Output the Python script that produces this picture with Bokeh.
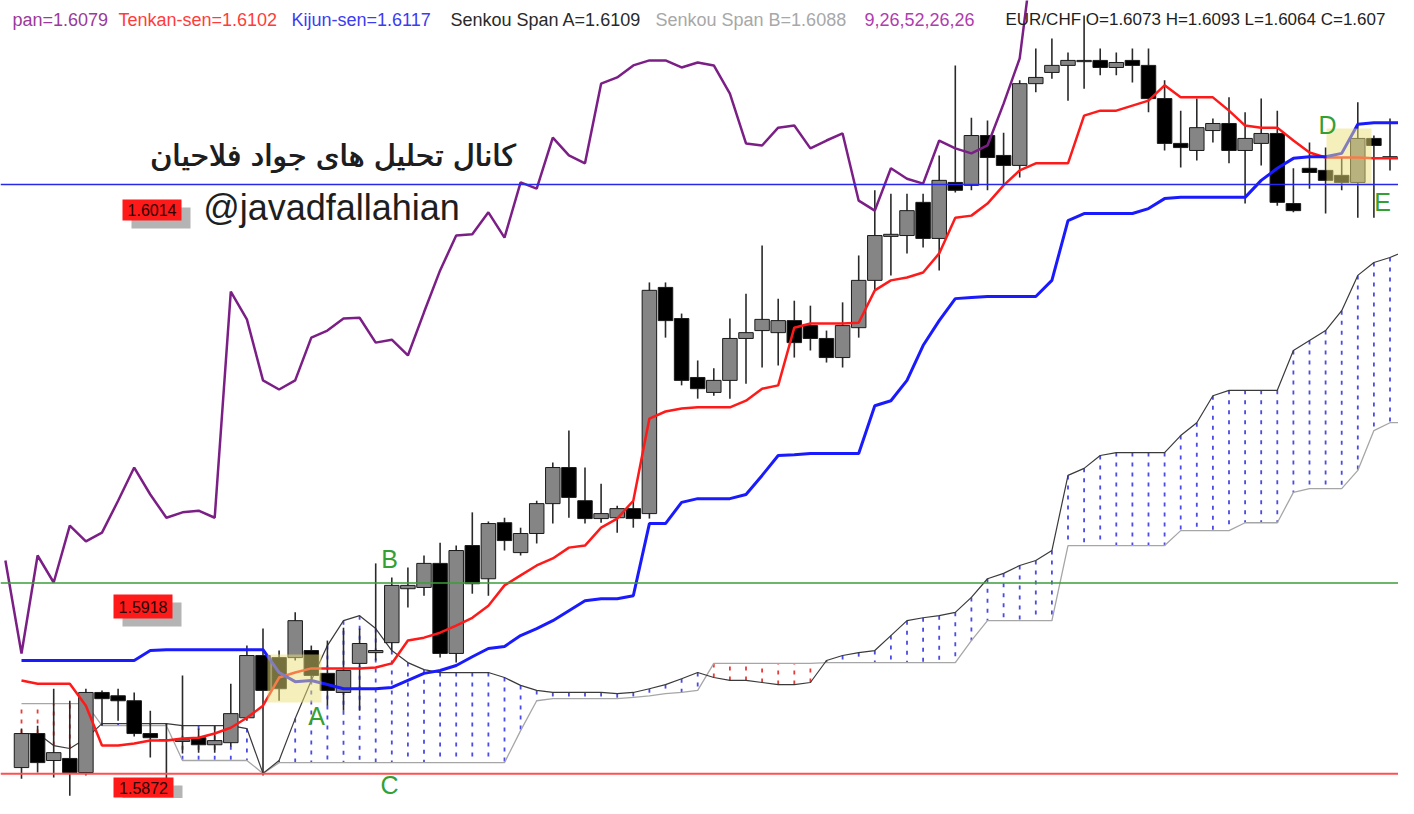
from bokeh.plotting import figure
from bokeh.models import Range1d, Label, Span
from bokeh.embed import file_html
from bokeh.resources import INLINE

# ---------------- data (EUR/CHF, Ichimoku 9,26,52) ----------------
bars = list(range(87))

opens = [1.58735, 1.58817, 1.58752, 1.58757, 1.58723, 1.58916, 1.58908, 1.58896, 1.58817, 1.58800,
         1.58798, 1.58807, 1.58790, 1.58795, 1.58855, 1.59005, 1.59000, 1.59000, 1.59017, 1.58962,
         1.58916, 1.58986, 1.59012, 1.59036, 1.59166, 1.59169, 1.59227, 1.59010, 1.59270, 1.59190,
         1.59325, 1.59253, 1.59299, 1.59371, 1.59458, 1.59378, 1.59335, 1.59337, 1.59359, 1.59347,
         1.59892, 1.59817, 1.59675, 1.59639, 1.59668, 1.59769, 1.59788, 1.59783, 1.59812, 1.59800,
         1.59769, 1.59723, 1.59795, 1.59909, 1.60015, 1.60017, 1.60097, 1.60010, 1.60145, 1.60138,
         1.60258, 1.60210, 1.60186, 1.60383, 1.60410, 1.60427, 1.60436, 1.60439, 1.60422, 1.60439,
         1.60427, 1.60347, 1.60239, 1.60222, 1.60270, 1.60287, 1.60222, 1.60239, 1.60263, 1.60094,
         1.60179, 1.60174, 1.60162, 1.60145, 1.60251, 1.60207, 1.60205]
highs = [1.58829, 1.58836, 1.58925, 1.58896, 1.58925, 1.58921, 1.58925, 1.58916, 1.58872, 1.58841,
         1.58957, 1.58829, 1.58836, 1.58937, 1.59029, 1.59070, 1.59017, 1.59109, 1.59029, 1.59041,
         1.59072, 1.59070, 1.59227, 1.59193, 1.59217, 1.59246, 1.59277, 1.59270, 1.59350, 1.59328,
         1.59337, 1.59313, 1.59378, 1.59470, 1.59547, 1.59458, 1.59419, 1.59366, 1.59378, 1.59904,
         1.59904, 1.59829, 1.59716, 1.59697, 1.59817, 1.59877, 1.59993, 1.59865, 1.59860, 1.59848,
         1.59788, 1.59856, 1.59969, 1.60126, 1.60118, 1.60118, 1.60118, 1.60210, 1.60427, 1.60301,
         1.60294, 1.60265, 1.60391, 1.60468, 1.60492, 1.60458, 1.60547, 1.60468, 1.60458, 1.60468,
         1.60468, 1.60391, 1.60318, 1.60347, 1.60299, 1.60350, 1.60314, 1.60347, 1.60318, 1.60179,
         1.60241, 1.60229, 1.60205, 1.60338, 1.60258, 1.60299, 1.60258]
lows = [1.58708, 1.58723, 1.58711, 1.58667, 1.58716, 1.58836, 1.58848, 1.58810, 1.58759, 1.58696,
        1.58769, 1.58771, 1.58771, 1.58786, 1.58848, 1.58716, 1.58896, 1.58993, 1.58945, 1.58884,
        1.58872, 1.58872, 1.58993, 1.59017, 1.59121, 1.59149, 1.59000, 1.58988, 1.59154, 1.59149,
        1.59258, 1.59246, 1.59275, 1.59323, 1.59337, 1.59323, 1.59325, 1.59301, 1.59313, 1.59335,
        1.59771, 1.59656, 1.59624, 1.59631, 1.59624, 1.59660, 1.59699, 1.59704, 1.59723, 1.59740,
        1.59711, 1.59699, 1.59771, 1.59885, 1.59921, 1.59974, 1.59988, 1.59933, 1.60121, 1.60126,
        1.60126, 1.60138, 1.60157, 1.60362, 1.60395, 1.60342, 1.60371, 1.60403, 1.60403, 1.60386,
        1.60314, 1.60222, 1.60181, 1.60198, 1.60241, 1.60191, 1.60094, 1.60186, 1.60089, 1.60073,
        1.60130, 1.60070, 1.60126, 1.60060, 1.60060, 1.60174, 1.60169]
closes = [1.58817, 1.58747, 1.58771, 1.58723, 1.58916, 1.58901, 1.58896, 1.58817, 1.58807, 1.58802,
          1.58802, 1.58790, 1.58800, 1.58865, 1.59005, 1.58921, 1.58925, 1.59089, 1.58957, 1.58921,
          1.58969, 1.59034, 1.59017, 1.59174, 1.59174, 1.59227, 1.59010, 1.59258, 1.59178, 1.59323,
          1.59282, 1.59299, 1.59371, 1.59458, 1.59386, 1.59335, 1.59347, 1.59359, 1.59335, 1.59885,
          1.59812, 1.59668, 1.59648, 1.59668, 1.59769, 1.59783, 1.59815, 1.59812, 1.59759, 1.59769,
          1.59723, 1.59800, 1.59909, 1.60017, 1.60020, 1.60077, 1.60010, 1.60150, 1.60126, 1.60258,
          1.60205, 1.60186, 1.60383, 1.60398, 1.60427, 1.60439, 1.60439, 1.60422, 1.60434, 1.60427,
          1.60347, 1.60239, 1.60229, 1.60277, 1.60287, 1.60222, 1.60251, 1.60263, 1.60097, 1.60077,
          1.60169, 1.60150, 1.60145, 1.60251, 1.60234, 1.60203, 1.60203]

tenkan = [1.58945, 1.58937, 1.58937, 1.58937, 1.58884, 1.58788, 1.58788, 1.58793, 1.58800, 1.58800,
          1.58805, 1.58807, 1.58817, 1.58831, 1.58855, 1.58884, 1.58952, 1.58964, 1.58974, 1.58974,
          1.58974, 1.58974, 1.58976, 1.58986, 1.59041, 1.59048, 1.59060, 1.59077, 1.59096, 1.59125,
          1.59174, 1.59198, 1.59222, 1.59239, 1.59265, 1.59270, 1.59313, 1.59335, 1.59378, 1.59576,
          1.59593, 1.59600, 1.59603, 1.59603, 1.59603, 1.59619, 1.59648, 1.59656, 1.59795, 1.59805,
          1.59805, 1.59805, 1.59807, 1.59885, 1.59909, 1.59916, 1.59928, 1.59974, 1.60060, 1.60065,
          1.60094, 1.60138, 1.60174, 1.60191, 1.60191, 1.60191, 1.60306, 1.60318, 1.60318, 1.60330,
          1.60342, 1.60379, 1.60350, 1.60350, 1.60350, 1.60318, 1.60282, 1.60277, 1.60277, 1.60246,
          1.60217, 1.60205, 1.60205, 1.60205, 1.60203, 1.60203, 1.60203]

kijun = ([1.58993] * 8 + [1.59017] + [1.59019] * 7 +
         [1.58964, 1.58942, 1.58945, 1.58935, 1.58925, 1.58925, 1.58925, 1.58928, 1.58945, 1.58962,
          1.58969, 1.58981, 1.59002, 1.59022, 1.59027, 1.59053, 1.59070, 1.59089, 1.59113, 1.59137,
          1.59142, 1.59142, 1.59149, 1.59323, 1.59323, 1.59374, 1.59383, 1.59383, 1.59383, 1.59393,
          1.59439, 1.59487, 1.59489, 1.59492, 1.59492, 1.59492, 1.59492, 1.59607, 1.59619, 1.59668,
          1.59752, 1.59812, 1.59865, 1.59868, 1.59870, 1.59870, 1.59870, 1.59870, 1.59909, 1.60053,
          1.60070, 1.60070, 1.60070, 1.60070, 1.60082, 1.60106, 1.60109, 1.60109, 1.60109, 1.60109,
          1.60109, 1.60150, 1.60179, 1.60203, 1.60207, 1.60207, 1.60215, 1.60285, 1.60289, 1.60289,
          1.60289])

chikou_bars = list(range(-1, 64))
chikou = [1.59234, 1.59010, 1.59246, 1.59181, 1.59318, 1.59280, 1.59301, 1.59378, 1.59458, 1.59393,
          1.59337, 1.59350, 1.59354, 1.59337, 1.59882, 1.59815, 1.59668, 1.59646, 1.59668, 1.59771,
          1.59788, 1.59817, 1.59819, 1.59759, 1.59766, 1.59728, 1.59832, 1.59933, 1.60017, 1.60020,
          1.60073, 1.60012, 1.60145, 1.60130, 1.60253, 1.60210, 1.60191, 1.60383, 1.60398, 1.60427,
          1.60439, 1.60439, 1.60422, 1.60434, 1.60427, 1.60359, 1.60239, 1.60234, 1.60277, 1.60282,
          1.60227, 1.60246, 1.60263, 1.60101, 1.60077, 1.60179, 1.60154, 1.60142, 1.60246, 1.60227,
          1.60215, 1.60234, 1.60335, 1.60444, 1.60752]

span_a = [1.58817, 1.58817, 1.58788, 1.58781, 1.58805, 1.58841, 1.58841, 1.58841, 1.58841, 1.58841,
          1.58836, 1.58836, 1.58836, 1.58836, 1.58829, 1.58721, 1.58752, 1.58853, 1.58945, 1.59029,
          1.59089, 1.59101, 1.59070, 1.59017, 1.58988, 1.58971, 1.58964, 1.58964, 1.58964, 1.58964,
          1.58952, 1.58933, 1.58921, 1.58916, 1.58916, 1.58916, 1.58916, 1.58913, 1.58916, 1.58925,
          1.58935, 1.58949, 1.58964, 1.58952, 1.58945, 1.58945, 1.58940, 1.58935, 1.58935, 1.58940,
          1.58993, 1.59005, 1.59012, 1.59017, 1.59053, 1.59089, 1.59096, 1.59101, 1.59109, 1.59145,
          1.59190, 1.59203, 1.59222, 1.59234, 1.59258, 1.59439, 1.59456, 1.59487, 1.59494, 1.59494,
          1.59494, 1.59494, 1.59535, 1.59566, 1.59631, 1.59644, 1.59644, 1.59644, 1.59644, 1.59740,
          1.59764, 1.59788, 1.59836, 1.59921, 1.59952, 1.59964, 1.59981]
span_b = ([1.58889] * 5 + [1.58836] * 5 + [1.58752] * 5 + [1.58721] + [1.58747] * 15 +
          [1.58824, 1.58896] + [1.58901] * 5 + [1.58904, 1.58908, 1.58913, 1.58916, 1.58921] +
          [1.58986] * 7 + [1.58988] * 9 + [1.59041] + [1.59089] * 5 + [1.59270] * 7 +
          [1.59306] * 4 + [1.59325] * 3 + [1.59398] + [1.59407] * 3 +
          [1.59451, 1.59547, 1.59566, 1.59566])

level_blue = 1.6014
level_green = 1.5918
level_red = 1.5872
level_labels = ["1.6014", "1.5918", "1.5872"]

header = [("pan=1.6079", "#9a3a9a"), ("Tenkan-sen=1.6102", "#ff3c3c"),
          ("Kijun-sen=1.6117", "#3c3cf0"), ("Senkou Span A=1.6109", "#2a2a2a"),
          ("Senkou Span B=1.6088", "#a8a8a8"), ("9,26,52,26,26", "#b03cb0"),
          ("EUR/CHF O=1.6073 H=1.6093 L=1.6064 C=1.607", "#1e1e1e")]
header_x = [12, 118, 291, 450, 655, 864, 1005]
header_size = ["18px", "18px", "18px", "18px", "18px", "18px", "17px"]

title_fa = "کانال تحلیل های جواد فلاحیان"
handle = "@javadfallahian"
marks = ["A", "B", "C", "D", "E"]

# ---------------- figure ----------------
W, H = 1398, 798
X0, X1 = -21 / 16.1, (W - 21) / 16.1
Y1 = 1.6014 + 184 / 41500
Y0 = 1.6014 - (H - 184) / 41500


def fx(px):
    return X0 + px / W * (X1 - X0)


def fy(py):
    return Y1 - py / H * (Y1 - Y0)


def sx(px):
    return px


def sy(py):
    return H - py


p = figure(width=W, height=H, x_range=Range1d(X0, X1), y_range=Range1d(Y0, Y1),
           output_backend="svg", toolbar_location=None,
           x_axis_location=None, y_axis_location=None, min_border=0)
p.grid.visible = False
p.outline_line_color = None
p.background_fill_color = "white"
p.border_fill_color = "white"

# cloud hatching
hatch_col = ["#4b4be6" if a >= b else "#e83c3c" for a, b in zip(span_a, span_b)]
p.segment(x0=bars, y0=span_a, x1=bars, y1=span_b, line_color=hatch_col,
          line_width=1.8, line_dash="4 6")
p.line(bars, span_b, line_color="#a6a6a6", line_width=1.3)
p.line(bars, span_a, line_color="#3a3a3a", line_width=1.2)

# candles
body_top = [max(o, c) for o, c in zip(opens, closes)]
body_bot = [min(o, c) for o, c in zip(opens, closes)]
body_col = ["#858585" if c >= o else "#000000" for o, c in zip(opens, closes)]
p.segment(x0=bars, y0=lows, x1=bars, y1=highs, line_color="#2a2a2a", line_width=1.6)
p.vbar(x=bars, width=0.9, top=body_top, bottom=body_bot, fill_color=body_col,
       line_color="#1a1a1a", line_width=1)

# level lines
p.add_layout(Span(location=level_blue, dimension="width", line_color="#2828e8", line_width=1.5))
p.add_layout(Span(location=level_green, dimension="width", line_color="#3c9c3c", line_width=1.5))
p.add_layout(Span(location=level_red, dimension="width", line_color="#ff5050", line_width=2))

# ichimoku lines
p.line(bars, tenkan, line_color="#ff1a1a", line_width=2.5)
p.line(bars, kijun, line_color="#1a1aff", line_width=3)
p.line(chikou_bars, chikou, line_color="#7b1f86", line_width=2.5)

# highlight zones
p.quad(left=[fx(267), fx(1326)], right=[fx(321), fx(1371)],
       top=[fy(654), fy(128)], bottom=[fy(702), fy(185)],
       fill_color="#ece07a", fill_alpha=0.5, line_color=None)

# price tags
tag_boxes = [(122, 181, 199, 220), (113, 172, 594, 618), (113, 173, 777, 797)]
for (l, r, t, b), txt in zip(tag_boxes, level_labels):
    p.quad(left=[fx(l + 9)], right=[fx(r + 9)], top=[fy(t + 8)], bottom=[fy(b + 8)],
           fill_color="#b4b4b4", line_color=None)
    p.quad(left=[fx(l)], right=[fx(r)], top=[fy(t)], bottom=[fy(b)],
           fill_color="#ff1a1a", line_color=None)
    p.add_layout(Label(x=sx((l + r) / 2), y=sy((t + b) / 2), x_units="screen", y_units="screen",
                       text=txt, text_font="Liberation Sans", text_font_size="16px",
                       text_color="#2a0000", text_align="center", text_baseline="middle"))

# header
for (txt, col), hx, fs in zip(header, header_x, header_size):
    p.add_layout(Label(x=sx(hx), y=sy(19), x_units="screen", y_units="screen", text=txt,
                       text_font="Liberation Sans", text_font_size=fs, text_color=col,
                       text_align="left", text_baseline="middle"))

# watermark (drawn twice, 1px apart, for a heavier stroke)
for dx in (0, 1):
    p.add_layout(Label(x=sx(332 + dx), y=sy(155), x_units="screen", y_units="screen",
                       text=title_fa, text_font="DejaVu Sans", text_font_size="30px",
                       text_color="#1e1e1e", text_align="center", text_baseline="middle"))
p.add_layout(Label(x=sx(331), y=sy(207), x_units="screen", y_units="screen", text=handle,
                   text_font="Liberation Sans", text_font_size="36px", text_color="#1e1e1e",
                   text_align="center", text_baseline="middle"))

# letters
mark_pos = [(316, 715), (389, 558), (389, 784), (1327, 124), (1382, 201)]
for m, (mx, my) in zip(marks, mark_pos):
    p.add_layout(Label(x=sx(mx), y=sy(my), x_units="screen", y_units="screen", text=m,
                       text_font="Liberation Sans", text_font_size="25px", text_color="#34a034",
                       text_align="center", text_baseline="middle"))

open("out.html", "w").write(file_html(p, INLINE))
